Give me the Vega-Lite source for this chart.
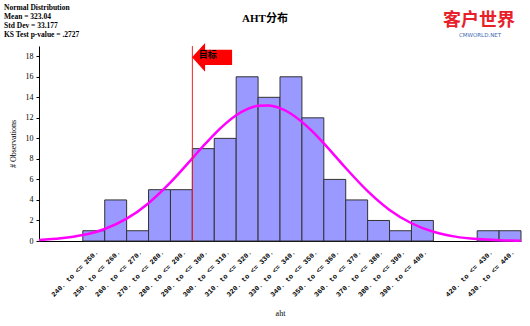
{
  "$schema": "https://vega.github.io/schema/vega-lite/v6.json",
  "autosize": "none",
  "width": 482,
  "height": 195,
  "padding": {"left": 39, "top": 46, "right": 9, "bottom": 85},
  "background": "white",
  "config": {"view": {"stroke": null}, "font": "Liberation Serif"},
  "title": {"text": "AHT分布", "anchor": "middle", "frame": "bounds", "fontSize": 11, "fontWeight": "bold", "font": "Liberation Serif, Noto Sans CJK SC", "color": "black", "offset": -20},
  "layer": [
    {
      "data": {"values": [
        {"lo": 240, "hi": 250, "count": 1},
        {"lo": 250, "hi": 260, "count": 4},
        {"lo": 260, "hi": 270, "count": 1},
        {"lo": 270, "hi": 280, "count": 5},
        {"lo": 280, "hi": 290, "count": 5},
        {"lo": 290, "hi": 300, "count": 9},
        {"lo": 300, "hi": 310, "count": 10},
        {"lo": 310, "hi": 320, "count": 16},
        {"lo": 320, "hi": 330, "count": 14},
        {"lo": 330, "hi": 340, "count": 16},
        {"lo": 340, "hi": 350, "count": 12},
        {"lo": 350, "hi": 360, "count": 6},
        {"lo": 360, "hi": 370, "count": 4},
        {"lo": 370, "hi": 380, "count": 2},
        {"lo": 380, "hi": 390, "count": 1},
        {"lo": 390, "hi": 400, "count": 2},
        {"lo": 420, "hi": 430, "count": 1},
        {"lo": 430, "hi": 440, "count": 1}
      ]},
      "mark": {"type": "bar", "fill": "#9999FF", "stroke": "#333333", "strokeWidth": 1},
      "encoding": {
        "x": {"field": "lo", "type": "quantitative",
          "scale": {"domain": [220, 440], "nice": false, "zero": false},
          "axis": {"title": "aht", "values": [245,255,265,275,285,295,305,315,325,335,345,355,365,375,385,395,425,435],
            "tickCount": 100,
            "labelExpr": "format(datum.value-5,'d') + '. to <= ' + format(datum.value+5,'d') + '.'",
            "labelAngle": -45, "labelFontSize": 7, "labelColor": "black", "labelFont": "Liberation Mono", "labelFontWeight": "bold",
            "labelOverlap": false, "labelBound": false, "labelFlush": false,
            "ticks": false, "grid": false, "domainColor": "black", "labelPadding": 7,
            "titleFontSize": 8, "titleFontWeight": "normal", "titleColor": "black", "titlePadding": 12}},
        "x2": {"field": "hi"},
        "y": {"field": "count", "type": "quantitative",
          "scale": {"domain": [0, 19], "nice": false},
          "axis": {"title": "# Observations", "values": [0,2,4,6,8,10,12,14,16,18], "tickCount": 100, "format": "d", "grid": false,
            "labelOverlap": false, "labelFlush": false,
            "tickSize": 3, "tickColor": "black", "domainColor": "black", "labelFontSize": 8, "labelColor": "black",
            "labelPadding": 3, "titleFontSize": 8, "titleFontWeight": "normal", "titleColor": "black", "titlePadding": 8}},
        "y2": {"datum": 0}
      }
    },
    {
      "data": {"values": [
        {"x": 220, "y": 0.106}, {"x": 230, "y": 0.259}, {"x": 240, "y": 0.577}, {"x": 250, "y": 1.172},
        {"x": 260, "y": 2.175}, {"x": 270, "y": 3.686}, {"x": 280, "y": 5.703}, {"x": 290, "y": 8.057},
        {"x": 295, "y": 9.26}, {"x": 300, "y": 10.40}, {"x": 305, "y": 11.41}, {"x": 310, "y": 12.25},
        {"x": 315, "y": 12.85}, {"x": 320, "y": 13.17}, {"x": 325, "y": 13.21}, {"x": 330, "y": 12.94},
        {"x": 335, "y": 12.40}, {"x": 340, "y": 11.61}, {"x": 345, "y": 10.63}, {"x": 350, "y": 9.51},
        {"x": 355, "y": 8.32}, {"x": 360, "y": 7.11}, {"x": 370, "y": 4.86}, {"x": 380, "y": 3.03},
        {"x": 390, "y": 1.73}, {"x": 400, "y": 0.897}, {"x": 410, "y": 0.426}, {"x": 420, "y": 0.185},
        {"x": 430, "y": 0.073}, {"x": 440, "y": 0.026}
      ]},
      "mark": {"type": "line", "color": "#FF00FF", "strokeWidth": 2.5, "interpolate": "monotone"},
      "encoding": {
        "x": {"field": "x", "type": "quantitative"},
        "y": {"field": "y", "type": "quantitative"}
      }
    },
    {
      "data": {"values": [{"target": 290}]},
      "mark": {"type": "rule", "color": "#EE2222", "strokeWidth": 1},
      "encoding": {"x": {"field": "target", "type": "quantitative"}}
    },
    {
      "data": {"values": [{"label": "目标"}]},
      "mark": {"type": "point", "shape": "M -1 0 L -0.35 -0.72 L -0.35 -0.38 L 1 -0.38 L 1 0.38 L -0.35 0.38 L -0.35 0.72 Z", "filled": true, "fill": "#FF0000", "stroke": null, "size": 1600, "opacity": 1},
      "encoding": {"x": {"datum": 299}, "y": {"datum": 17.9}}
    },
    {
      "data": {"values": [{"label": "目标"}]},
      "mark": {"type": "text", "font": "Noto Sans CJK SC", "fontSize": 9, "fontWeight": "bold", "color": "black", "align": "center", "baseline": "middle"},
      "encoding": {"x": {"datum": 297}, "y": {"datum": 18.1}, "text": {"field": "label"}}
    },
    {
      "data": {"values": [{"t": "Normal Distribution\nMean = 323.04\nStd Dev = 33.177\nKS Test p-value = .2727"}]},
      "mark": {"type": "text", "font": "Liberation Serif", "fontSize": 7.5, "fontWeight": "bold", "color": "black", "align": "left", "baseline": "top", "lineBreak": "\n", "lineHeight": 9},
      "encoding": {"x": {"value": -35}, "y": {"value": -42}, "text": {"field": "t"}}
    },
    {
      "data": {"values": [{"t": "客户世界"}]},
      "mark": {"type": "text", "font": "Noto Sans CJK SC", "fontSize": 18, "fontWeight": "bold", "color": "#E8202A", "align": "center", "baseline": "middle"},
      "encoding": {"x": {"value": 440}, "y": {"value": -25}, "text": {"field": "t"}}
    },
    {
      "data": {"values": [{"t": "CMWORLD.NET"}]},
      "mark": {"type": "text", "font": "DejaVu Sans", "fontSize": 5.5, "color": "#3A6AB0", "align": "center", "baseline": "middle"},
      "encoding": {"x": {"value": 441}, "y": {"value": -11}, "text": {"field": "t"}}
    }
  ]
}
